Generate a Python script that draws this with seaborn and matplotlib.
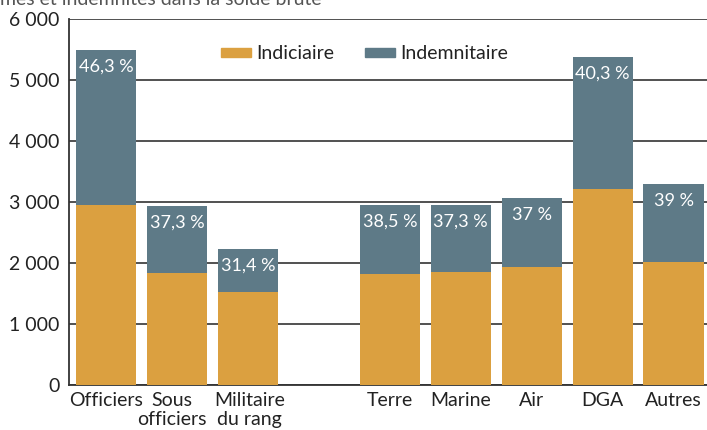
import matplotlib
matplotlib.use("Agg")
import matplotlib.pyplot as plt
import matplotlib.transforms as mtransforms
import seaborn as sns
import pandas as pd
from matplotlib.patches import Patch

categories = ["Officiers", "Sous\nofficiers", "Militaire\ndu rang", "",
              "Terre", "Marine", "Air", "DGA", "Autres"]
totals = [5490, 2935, 2230, 0, 2950, 2950, 3065, 5375, 3295]
indiciaire = [2950, 1840, 1530, 0, 1815, 1850, 1930, 3210, 2010]
shares = ["46,3 %", "37,3 %", "31,4 %", "", "38,5 %", "37,3 %", "37 %", "40,3 %", "39 %"]
yticks = [0, 1000, 2000, 3000, 4000, 5000, 6000]
ytick_labels = ["0", "1 000", "2 000", "3 000", "4 000", "5 000", "6 000"]

C_IND = "#DBA040"
C_IDM = "#5E7A87"

sns.set_theme(style="white")
plt.rcParams["font.family"] = ["Lato", "DejaVu Sans"]

df = pd.DataFrame({"cat": categories, "total": totals, "ind": indiciaire})

fig = plt.figure(figsize=(7.07, 4.30), dpi=100)
ax = fig.add_axes([69/707, 1-385/430, 1-69/707, (385-19)/430])

sns.barplot(data=df, x="cat", y="total", order=categories, color=C_IDM,
            width=0.85, linewidth=0, saturation=1, ax=ax, zorder=3)
sns.barplot(data=df, x="cat", y="ind", order=categories, color=C_IND,
            width=0.85, linewidth=0, saturation=1, ax=ax, zorder=4)

for i, (t, s) in enumerate(zip(totals, shares)):
    if s:
        ax.annotate(s, (i, t), xytext=(0, -12), textcoords="offset points",
                    ha="center", va="center", color="white", fontsize=13, zorder=5)

ax.set_ylim(0, 6000)
ax.set_xlim(-0.52, 8.47)
ax.set_yticks(yticks)
ax.set_yticklabels(ytick_labels)
ax.set_xticks(range(len(categories)))
ax.set_xticklabels(categories, linespacing=1.12)
ax.set_xlabel("")
ax.set_ylabel("")
ax.tick_params(axis="both", length=0, labelsize=14, colors="#222222")
ax.tick_params(axis="x", pad=5)
ax.tick_params(axis="y", pad=7)

# nudge the "Sous officiers" label slightly left as in the reference
for lbl in ax.get_xticklabels():
    if lbl.get_text().startswith("Sous"):
        lbl.set_transform(lbl.get_transform() +
                          mtransforms.ScaledTranslation(-5/100, 0, fig.dpi_scale_trans))
    if lbl.get_text().startswith("Militaire"):
        lbl.set_transform(lbl.get_transform() +
                          mtransforms.ScaledTranslation(2/100, 0, fig.dpi_scale_trans))

ax.yaxis.grid(True, color="#333333", linewidth=1.2, zorder=0)
ax.set_axisbelow(True)
for side in ["top", "right"]:
    ax.spines[side].set_visible(False)
for side in ["left", "bottom"]:
    ax.spines[side].set_color("#333333")
    ax.spines[side].set_linewidth(1.3)

handles = [Patch(color=C_IND, label="Indiciaire"), Patch(color=C_IDM, label="Indemnitaire")]
ax.legend(handles=handles, loc="center", bbox_to_anchor=(0.463, 0.905), ncol=2,
          frameon=False, handlelength=1.55, handleheight=0.38, fontsize=14,
          columnspacing=1.6, handletextpad=0.25, labelcolor="#222222")

fig.text(0.0, 1.0 + 0.022, "mes et indemnités dans la solde brute", ha="left", va="top",
         fontsize=14, color="#555555")

fig.savefig("out.png", dpi=100)
